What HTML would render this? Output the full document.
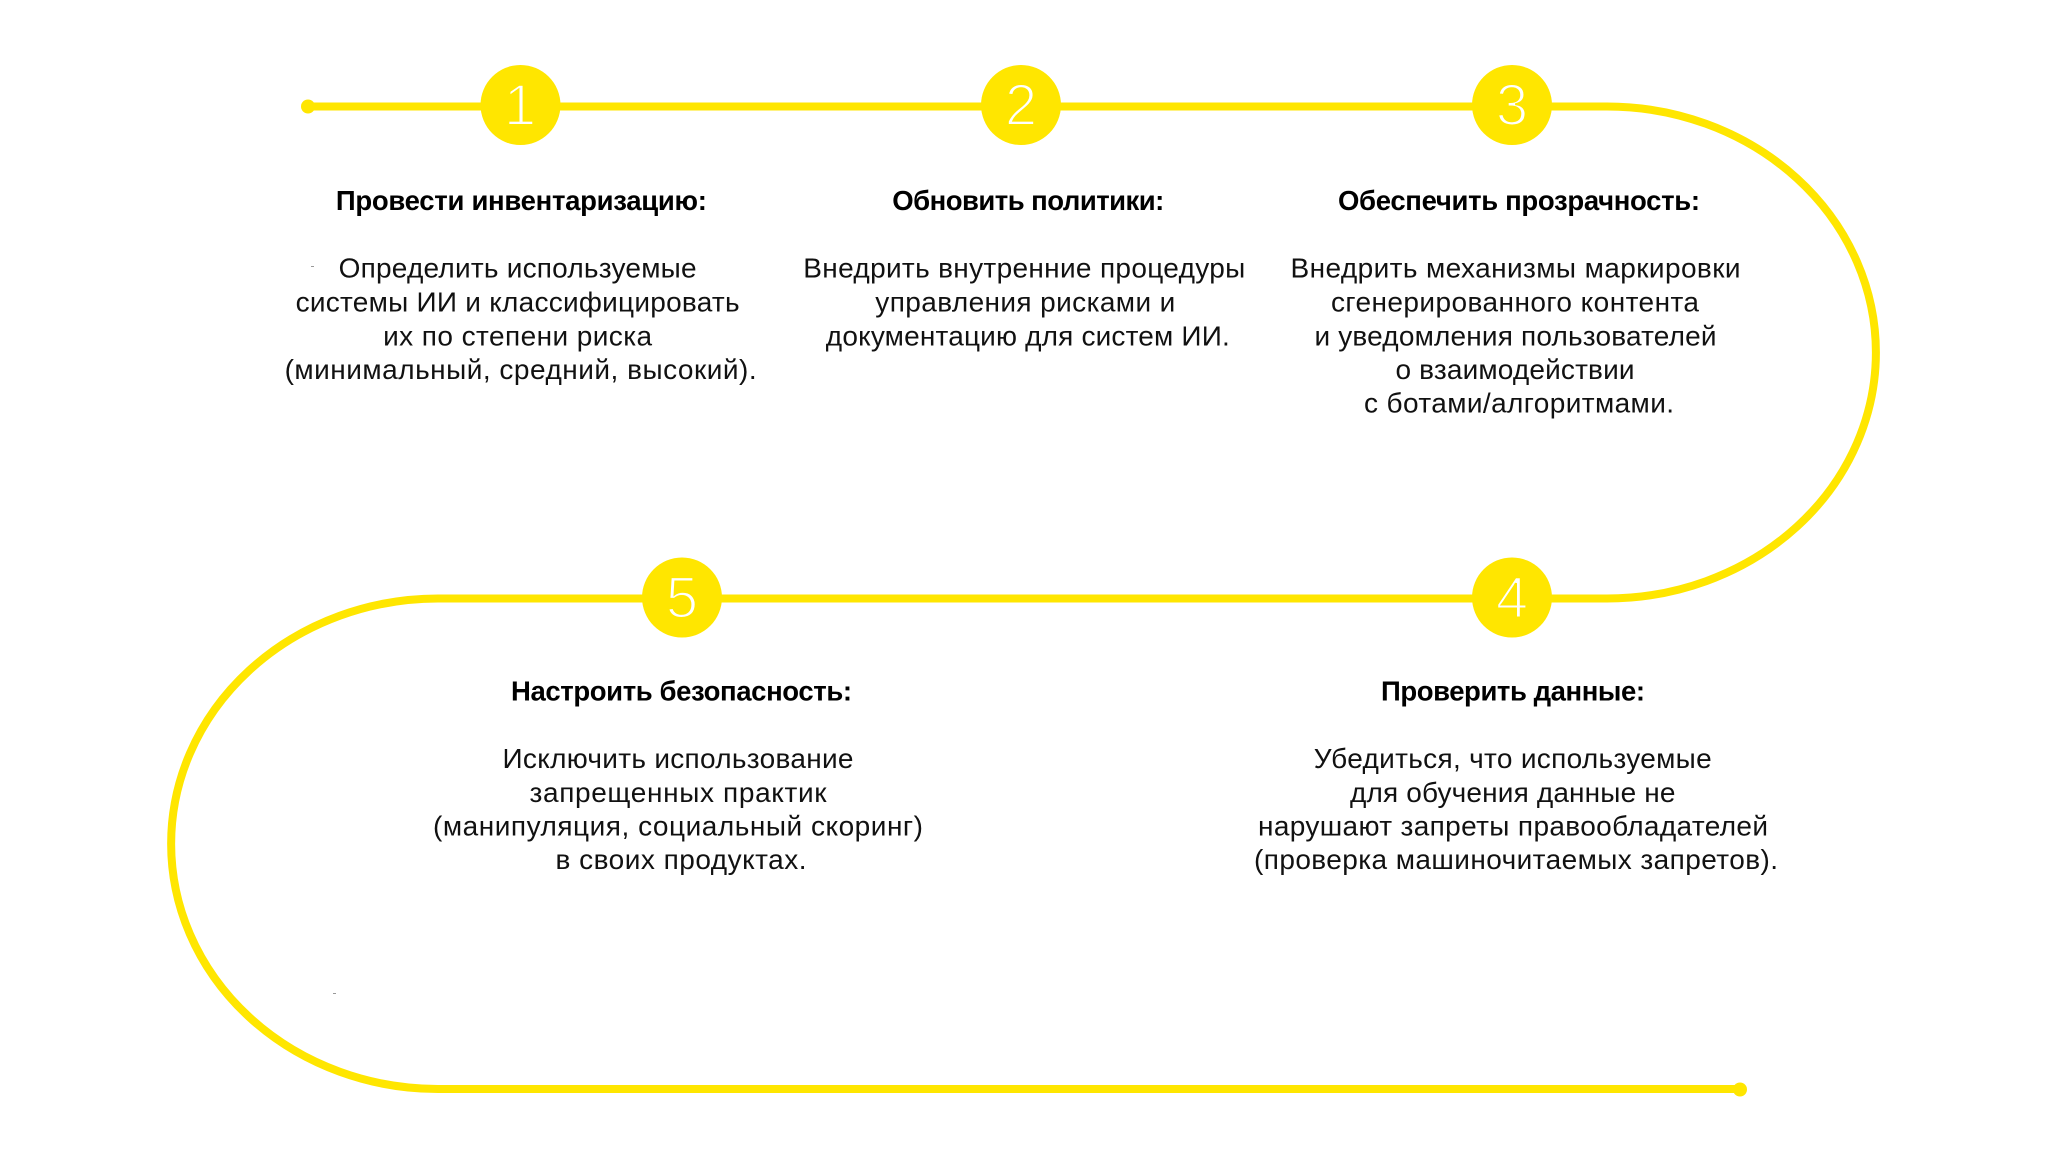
<!DOCTYPE html>
<html><head><meta charset="utf-8"><style>
html,body{margin:0;padding:0;background:#fff;width:2048px;height:1155px;overflow:hidden}
svg{display:block}
text{font-family:"Liberation Sans",sans-serif;font-size:28px;fill:#111;text-anchor:middle}
.h{font-weight:700;fill:#000;font-size:27.5px}
.n{font-size:58px;fill:#fff;stroke:#FFE600;stroke-width:2px}
</style></head><body>
<svg width="2048" height="1155" viewBox="0 0 2048 1155" xmlns="http://www.w3.org/2000/svg">
<rect width="2048" height="1155" fill="#fff"/>
<path d="M308 106.5H1607A269 246 0 0 1 1607 598.5H438A267 245.25 0 0 0 438 1089H1740" fill="none" stroke="#FFE600" stroke-width="8"/>
<circle cx="308" cy="106.5" r="7" fill="#FFE600"/>
<circle cx="1740" cy="1089.5" r="7" fill="#FFE600"/>
<g fill="#FFE600">
<circle cx="520.5" cy="105" r="40"/><circle cx="1021" cy="105" r="40"/><circle cx="1512" cy="105" r="40"/>
<circle cx="1512" cy="597.5" r="40"/><circle cx="682" cy="597.5" r="40"/>
</g>
<text class="n" x="520" y="125">1</text>
<text class="n" x="1021" y="125">2</text>
<text class="n" x="1512" y="125">3</text>
<text class="n" x="1512" y="617.5">4</text>
<text class="n" x="682" y="617.5">5</text>

<text class="h" x="521.4" y="210" textLength="371">Провести инвентаризацию:</text>
<text x="517.6" y="277.5" textLength="358">Определить используемые</text>
<text x="517.6" y="311.5" textLength="444">системы ИИ и классифицировать</text>
<text x="517.6" y="345.5" textLength="269">их по степени риска</text>
<text x="520.6" y="379" textLength="472">(минимальный, средний, высокий).</text>

<text class="h" x="1028.3" y="210" textLength="272">Обновить политики:</text>
<text x="1024.3" y="277.5" textLength="442">Внедрить внутренние процедуры</text>
<text x="1025.3" y="311.5" textLength="300">управления рисками и</text>
<text x="1027.8" y="345.5" textLength="404">документацию для систем ИИ.</text>

<text class="h" x="1519" y="210" textLength="362">Обеспечить прозрачность:</text>
<text x="1515.5" y="277.5" textLength="450">Внедрить механизмы маркировки</text>
<text x="1515" y="311.5" textLength="368">сгенерированного контента</text>
<text x="1515.5" y="345.5" textLength="402">и уведомления пользователей</text>
<text x="1515" y="379" textLength="239">о взаимодействии</text>
<text x="1519" y="412.5" textLength="310">с ботами/алгоритмами.</text>

<text class="h" x="681.5" y="700.5" textLength="341">Настроить безопасность:</text>
<text x="678" y="768" textLength="351">Исключить использование</text>
<text x="678" y="802" textLength="297">запрещенных практик</text>
<text x="678" y="835.5" textLength="490">(манипуляция, социальный скоринг)</text>
<text x="681" y="869" textLength="251">в своих продуктах.</text>

<text class="h" x="1513" y="700.5" textLength="264">Проверить данные:</text>
<text x="1512.7" y="768" textLength="398">Убедиться, что используемые</text>
<text x="1512.7" y="802" textLength="325.5">для обучения данные не</text>
<text x="1513" y="835.5" textLength="510">нарушают запреты правообладателей</text>
<text x="1516" y="869" textLength="524">(проверка машиночитаемых запретов).</text>

<rect x="311" y="266" width="3" height="1" fill="#999"/>
<rect x="333" y="993" width="3" height="1" fill="#999"/>
</svg>
</body></html>
